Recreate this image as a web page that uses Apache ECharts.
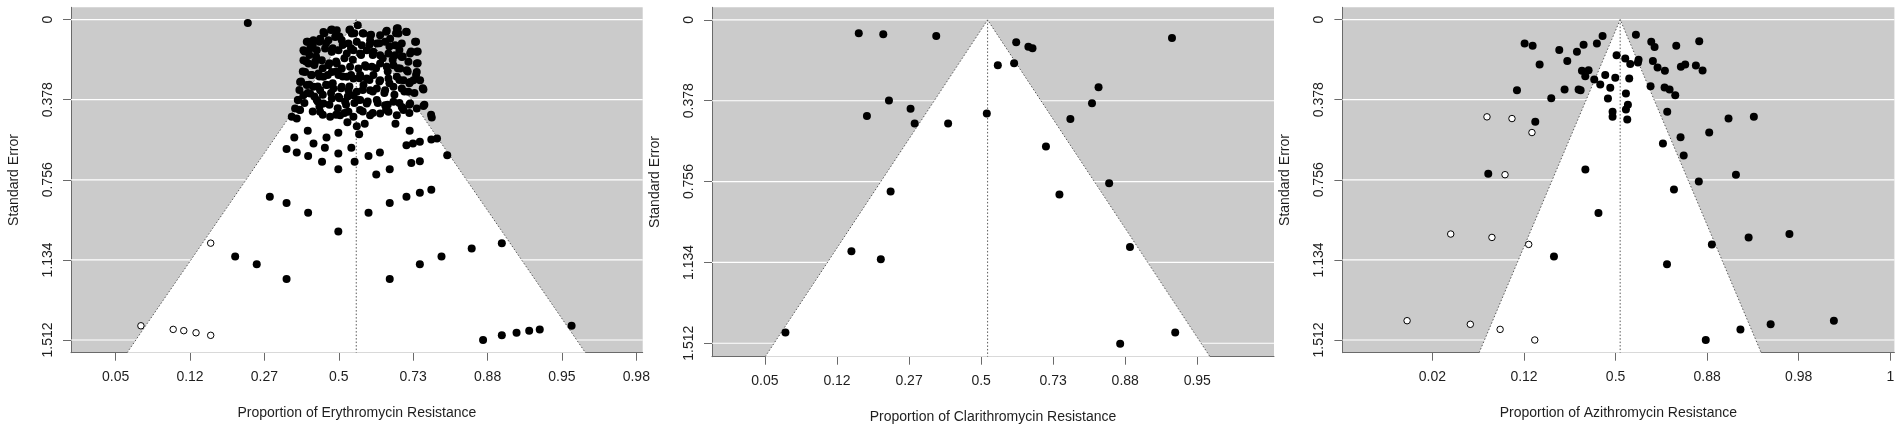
<!DOCTYPE html>
<html>
<head>
<meta charset="utf-8">
<script src="https://cdn.jsdelivr.net/npm/echarts@6/dist/echarts.min.js"></script>
<style>
html,body{margin:0;padding:0;background:#ffffff;}
#chart{width:1902px;height:430px;}
</style>
</head>
<body>
<div id="chart"></div>
<script>
// ---------- DATA (x = logit of proportion, y = standard error) ----------
const seTicks = [0, 0.378, 0.756, 1.134, 1.512];

const eryTickPos = [-3, -2, -1, 0, 1, 2, 3, 4];
const eryTickLabels = ['0.05', '0.12', '0.27', '0.5', '0.73', '0.88', '0.95', '0.98'];
const eryEstimate = 0.235;
const eryObserved = [
  [-1.223,0.016],
  [0.255,0.027],[-0.206,0.058],[-0.094,0.047],[-0.027,0.050],[0.152,0.047],[0.175,0.066],[0.332,0.066],[0.421,0.074],[0.556,0.074],[0.645,0.053],[0.780,0.042],[0.802,0.066],[0.914,0.058],[0.690,0.090],
  [-0.430,0.105],[-0.341,0.097],[-0.251,0.090],[-0.139,0.097],[-0.049,0.082],[0.040,0.097],[0.130,0.113],[0.242,0.105],[0.309,0.121],[0.421,0.097],[0.511,0.113],[0.623,0.105],[0.757,0.121],[0.847,0.113],[1.026,0.105],[0.959,0.160],[1.048,0.152],
  [-0.475,0.145],[-0.385,0.137],[-0.296,0.145],[-0.184,0.137],[-0.094,0.152],[-0.004,0.145],[0.108,0.160],[0.197,0.145],[0.287,0.160],[0.376,0.145],[0.466,0.152],[0.556,0.168],[0.668,0.160],[0.757,0.168],[0.847,0.176],[0.936,0.199],[1.048,0.207],
  [-0.475,0.192],[-0.408,0.207],[-0.318,0.199],[-0.228,0.192],[-0.139,0.215],[-0.027,0.207],[0.040,0.231],[0.152,0.223],[0.264,0.231],[0.354,0.215],[0.444,0.223],[0.556,0.207],[0.645,0.223],[0.735,0.215],[0.824,0.231],[0.914,0.239],[1.048,0.247],[1.004,0.286],
  [-0.453,0.247],[-0.363,0.262],[-0.273,0.254],[-0.206,0.270],[-0.094,0.247],[-0.004,0.262],[0.108,0.270],[0.197,0.278],[0.287,0.262],[0.376,0.278],[0.466,0.262],[0.556,0.286],[0.668,0.278],[0.780,0.270],[0.869,0.286],[0.959,0.294],[1.093,0.286],
  [-0.520,0.294],[-0.430,0.309],[-0.341,0.317],[-0.251,0.333],[-0.161,0.309],[-0.072,0.325],[0.040,0.317],[0.130,0.333],[0.242,0.341],[0.332,0.309],[0.421,0.333],[0.511,0.325],[0.623,0.333],[0.735,0.317],[0.847,0.325],[0.936,0.341],[1.138,0.330],
  [-0.542,0.380],[-0.475,0.357],[-0.385,0.349],[-0.296,0.380],[-0.206,0.396],[-0.094,0.372],[-0.004,0.364],[0.085,0.388],[0.197,0.357],[0.287,0.380],[0.376,0.396],[0.511,0.380],[0.623,0.404],[0.735,0.388],[0.847,0.412],[0.959,0.396],[1.048,0.419],[1.138,0.408],
  [-0.587,0.419],[-0.520,0.427],[-0.632,0.459],[-0.565,0.467],[-0.251,0.435],[-0.116,0.459],[0.018,0.451],[0.130,0.435],[0.197,0.459],[0.287,0.427],[0.421,0.451],[0.556,0.443],[0.668,0.435],[0.780,0.451],[0.869,0.427],[1.250,0.462],
  [0.116,0.485],[0.242,0.503],[0.349,0.492],[0.762,0.492],
  // additional studies read from the dense left half of the cluster
  [-0.193,0.065],[-0.104,0.049],[-0.036,0.057],[0.009,0.080],[0.143,0.049],[0.210,0.065],[-0.417,0.104],[-0.350,0.120],[-0.260,0.104],[-0.171,0.112],
  [-0.081,0.135],[0.053,0.120],[0.165,0.135],[-0.462,0.151],[-0.395,0.167],[-0.305,0.174],[-0.440,0.198],[-0.328,0.214],[-0.215,0.230],[-0.126,0.206],
  [-0.036,0.198],[0.076,0.182],[0.188,0.190],[-0.484,0.245],[-0.372,0.261],[-0.260,0.269],[-0.148,0.261],[-0.036,0.245],[0.053,0.269],[0.165,0.261],
  [-0.507,0.292],[-0.395,0.308],[-0.283,0.316],[-0.171,0.308],[-0.081,0.300],[0.031,0.324],[0.143,0.316],[-0.529,0.332],[-0.417,0.347],[-0.328,0.363],
  [-0.215,0.355],[-0.104,0.347],[0.009,0.371],[0.121,0.363],[-0.551,0.379],[-0.462,0.394],[-0.283,0.387],[-0.260,0.410],[-0.126,0.402],[-0.014,0.418],
  [0.098,0.402],[0.210,0.394],[-0.529,0.426],[-0.350,0.434],[-0.215,0.449],[-0.036,0.449],[0.076,0.441],
  // additional studies read from the dense right half of the cluster
  [0.322,0.065],[0.434,0.072],[0.636,0.057],[0.770,0.065],[0.793,0.041],[0.905,0.057],[1.039,0.104],[0.972,0.151],[1.061,0.151],[0.412,0.120],
  [0.546,0.112],[0.681,0.127],[0.815,0.143],[0.300,0.167],[0.457,0.167],[0.591,0.182],[0.725,0.190],[0.860,0.174],[1.061,0.206],[0.367,0.222],
  [0.501,0.230],[0.658,0.245],[0.793,0.230],[0.927,0.245],[1.039,0.261],[0.277,0.277],[0.412,0.285],[0.546,0.292],[0.681,0.300],[0.815,0.285],
  [0.949,0.300],[1.129,0.324],[0.322,0.332],[0.457,0.339],[0.613,0.347],[0.748,0.355],[0.882,0.339],[1.017,0.347],[0.255,0.379],[0.389,0.387],
  [0.524,0.394],[0.658,0.402],[0.815,0.394],[0.949,0.402],[1.151,0.402],[0.322,0.434],[0.457,0.441],[0.636,0.426],[0.860,0.418],[0.949,0.441],[1.241,0.449],
  // lower studies
  [-0.702,0.611],[-0.565,0.627],[-0.412,0.644],[-0.225,0.671],[-0.006,0.706],[-0.006,0.632],[0.213,0.671],[0.400,0.644],[0.553,0.627],[0.685,0.706],[0.504,0.731],[0.975,0.677],[1.090,0.668],[0.910,0.593],[0.997,0.585],[1.090,0.577],[1.244,0.566],[1.321,0.561],[1.458,0.640],[-0.598,0.556],[-0.417,0.525],[-0.340,0.585],[-0.187,0.605],[-0.165,0.556],[-0.006,0.534],[0.169,0.605],[0.274,0.541],[0.953,0.525],
  [-0.927,0.836],[-0.702,0.866],[-0.412,0.912],[-0.006,1.000],[0.400,0.912],[0.685,0.866],[0.910,0.836],[1.090,0.817],[1.244,0.803],
  [-1.393,1.118],[-1.103,1.155],[-0.702,1.224],[1.090,1.155],[1.381,1.118],[1.787,1.080],[2.192,1.055],[0.685,1.224],
  [1.940,1.512],[2.192,1.490],[2.390,1.478],[2.560,1.468],[2.702,1.462],[3.130,1.445]
];
const eryFilled = [[-2.660,1.445],[-2.226,1.462],[-2.084,1.468],[-1.919,1.478],[-1.722,1.490],[-1.722,1.055]];

const claTickPos = [-3, -2, -1, 0, 1, 2, 3];
const claTickLabels = ['0.05', '0.12', '0.27', '0.5', '0.73', '0.88', '0.95'];
const claEstimate = 0.09;
const claObserved = [
  [-1.698,0.062],[-1.358,0.067],[-0.623,0.075],[2.649,0.084],[0.487,0.104],[0.656,0.125],[0.713,0.133],[0.232,0.212],[0.458,0.203],[1.630,0.315],
  [-1.279,0.377],[-0.979,0.416],[-1.585,0.449],[-0.922,0.485],[-0.458,0.485],[0.079,0.438],[1.539,0.390],[1.239,0.463],[0.900,0.592],[1.777,0.764],
  [1.087,0.817],[-1.256,0.803],[-1.800,1.082],[-1.392,1.119],[2.066,1.062],[-2.716,1.462],[2.694,1.462],[1.930,1.514]
];

const aziTickPos = [-4, -2, 0, 2, 4, 6];
const aziTickLabels = ['0.02', '0.12', '0.5', '0.88', '0.98', '1'];
const aziEstimate = 0.1;
const aziObserved = [
  [-1.987,0.113],[-1.812,0.124],[-1.659,0.212],[-1.230,0.143],[-1.055,0.195],[-0.844,0.152],[-0.699,0.119],[-0.408,0.113],[-0.284,0.077],[-0.735,0.242],
  [-0.590,0.239],[-0.662,0.267],[-0.466,0.283],[-0.335,0.306],[-0.226,0.261],[-0.116,0.322],[-0.007,0.275],[0.022,0.168],[0.211,0.184],[0.320,0.210],
  [0.488,0.203],[0.502,0.189],[0.298,0.278],[0.226,0.349],[-0.167,0.372],[-0.066,0.435],[-0.066,0.459],[0.226,0.424],[0.269,0.402],[0.255,0.471],
  [0.444,0.072],[0.779,0.105],[0.852,0.129],[0.815,0.196],[0.917,0.226],[1.077,0.242],[1.325,0.124],[1.426,0.223],[1.521,0.212],[1.754,0.217],
  [1.900,0.240],[1.827,0.102],[0.764,0.314],[1.070,0.320],[1.179,0.330],[1.303,0.357],[1.128,0.435],[-2.154,0.333],[-1.114,0.330],[-0.808,0.330],
  [-0.764,0.333],[-1.405,0.371],[-1.754,0.482],[2.467,0.467],[3.020,0.459],[1.419,0.555],[2.045,0.533],
  [1.034,0.585],[1.488,0.641],[-0.660,0.707],[-2.781,0.728],[2.629,0.732],[1.818,0.764],[1.275,0.802],[-0.374,0.913],[2.906,1.028],[3.797,1.012],
  [2.103,1.061],[-1.346,1.118],[1.123,1.155],[2.727,1.462],[3.387,1.438],[4.768,1.421],[1.970,1.512]
];
const aziFilled = [
  [-2.809,0.459],[-2.263,0.467],[-1.827,0.533],[-2.415,0.732],[-3.601,1.012],[-2.701,1.028],[-1.898,1.061],[-4.554,1.421],[-3.173,1.438],[-2.522,1.462],[-1.765,1.512]
];

// ---------- LAYOUT ----------
const FONT = 'Liberation Sans, Arial, Helvetica, sans-serif';
const TEXT = '#1e1e1e';
const AXIS = '#6a6a6a';

const panels = [
  {title:'Proportion of Erythromycin Resistance', est:eryEstimate, obs:eryObserved, fill:eryFilled, pos:eryTickPos, lab:eryTickLabels,
   grid:{left:71, top:7.3, width:571.7, height:345.4}, xmin:-3.60, xmax:4.086, ymin:-0.058, ymax:1.572},
  {title:'Proportion of Clarithromycin Resistance', est:claEstimate, obs:claObserved, fill:[], pos:claTickPos, lab:claTickLabels,
   grid:{left:712, top:7.3, width:562, height:349.4}, xmin:-3.735, xmax:4.065, ymin:-0.059, ymax:1.575},
  {title:'Proportion of Azithromycin Resistance', est:aziEstimate, obs:aziObserved, fill:aziFilled, pos:aziTickPos, lab:aziTickLabels,
   grid:{left:1342.4, top:7.3, width:552, height:345.4}, xmin:-5.967, xmax:6.09, ymin:-0.058, ymax:1.572}
];

const grids = [], xAxes = [], yAxes = [], series = [];
panels.forEach((p, i) => {
  grids.push(Object.assign({show:true, backgroundColor:'#cbcbcb', borderWidth:0, containLabel:false}, p.grid));
  xAxes.push({
    gridIndex:i, type:'value', min:p.xmin, max:p.xmax,
    axisLine:{show:true, onZero:false, lineStyle:{color:AXIS, width:1}},
    axisTick:{show:true, customValues:p.pos, length:8, lineStyle:{color:AXIS, width:1}},
    axisLabel:{show:true, customValues:p.pos, margin:17, fontSize:14, fontFamily:FONT, color:TEXT,
      formatter:(v) => { const k = p.pos.findIndex(t => Math.abs(t - v) < 1e-6); return k >= 0 ? p.lab[k] : ''; }},
    splitLine:{show:false},
    name:p.title, nameLocation:'middle', nameGap:53,
    nameTextStyle:{fontSize:14, fontFamily:FONT, color:TEXT}
  });
  yAxes.push({
    gridIndex:i, type:'value', inverse:true, min:p.ymin, max:p.ymax,
    axisLine:{show:true, onZero:false, lineStyle:{color:AXIS, width:1}},
    axisTick:{show:true, customValues:seTicks, length:8, lineStyle:{color:AXIS, width:1}},
    axisLabel:{show:true, customValues:seTicks, rotate:90, margin:16, fontSize:14, fontFamily:FONT, color:TEXT,
      formatter:(v) => String(Math.round(v * 1000) / 1000)},
    splitLine:{show:false},
    name:'Standard Error', nameLocation:'middle', nameGap:50,
    nameTextStyle:{fontSize:14, fontFamily:FONT, color:TEXT}
  });
  // white horizontal reference lines
  series.push({
    type:'custom', xAxisIndex:i, yAxisIndex:i, z:1, silent:true,
    data:seTicks.map(v => [p.xmin, v]),
    renderItem:(params, api) => {
      const cs = params.coordSys;
      const y = api.coord([api.value(0), api.value(1)])[1];
      return {type:'line', shape:{x1:cs.x, y1:y, x2:cs.x + cs.width, y2:y}, style:{stroke:'#ffffff', lineWidth:1.2}};
    }
  });
  // funnel region (estimate ± 1.96·SE) with dotted outline and centre line
  series.push({
    type:'custom', xAxisIndex:i, yAxisIndex:i, z:2, silent:true,
    data:[[p.est, p.ymax]],
    renderItem:(params, api) => {
      const est = api.value(0), sm = api.value(1);
      const top = api.coord([est, 0]);
      const bl = api.coord([est - 1.96 * sm, sm]);
      const br = api.coord([est + 1.96 * sm, sm]);
      const dash = {stroke:'#5a5a5a', lineWidth:1, lineDash:[1.5, 2], fill:null};
      return {type:'group', children:[
        {type:'polygon', shape:{points:[top, bl, br]}, style:{fill:'#ffffff'}},
        {type:'polyline', shape:{points:[bl, top, br]}, style:dash},
        {type:'line', shape:{x1:top[0], y1:top[1], x2:top[0], y2:bl[1]}, style:dash}
      ]};
    }
  });
  series.push({
    type:'scatter', xAxisIndex:i, yAxisIndex:i, z:4, silent:true,
    data:p.obs, symbol:'circle', symbolSize:8,
    itemStyle:{color:'#000000', opacity:1}
  });
  if (p.fill.length) {
    series.push({
      type:'scatter', xAxisIndex:i, yAxisIndex:i, z:4, silent:true,
      data:p.fill, symbol:'circle', symbolSize:6.5,
      itemStyle:{color:'#ffffff', borderColor:'#000000', borderWidth:1, opacity:1}
    });
  }
});

const chart = echarts.init(document.getElementById('chart'), null, {renderer:'canvas'});
chart.setOption({
  animation:false,
  backgroundColor:'#ffffff',
  grid:grids, xAxis:xAxes, yAxis:yAxes, series:series
});
</script>
</body>
</html>
